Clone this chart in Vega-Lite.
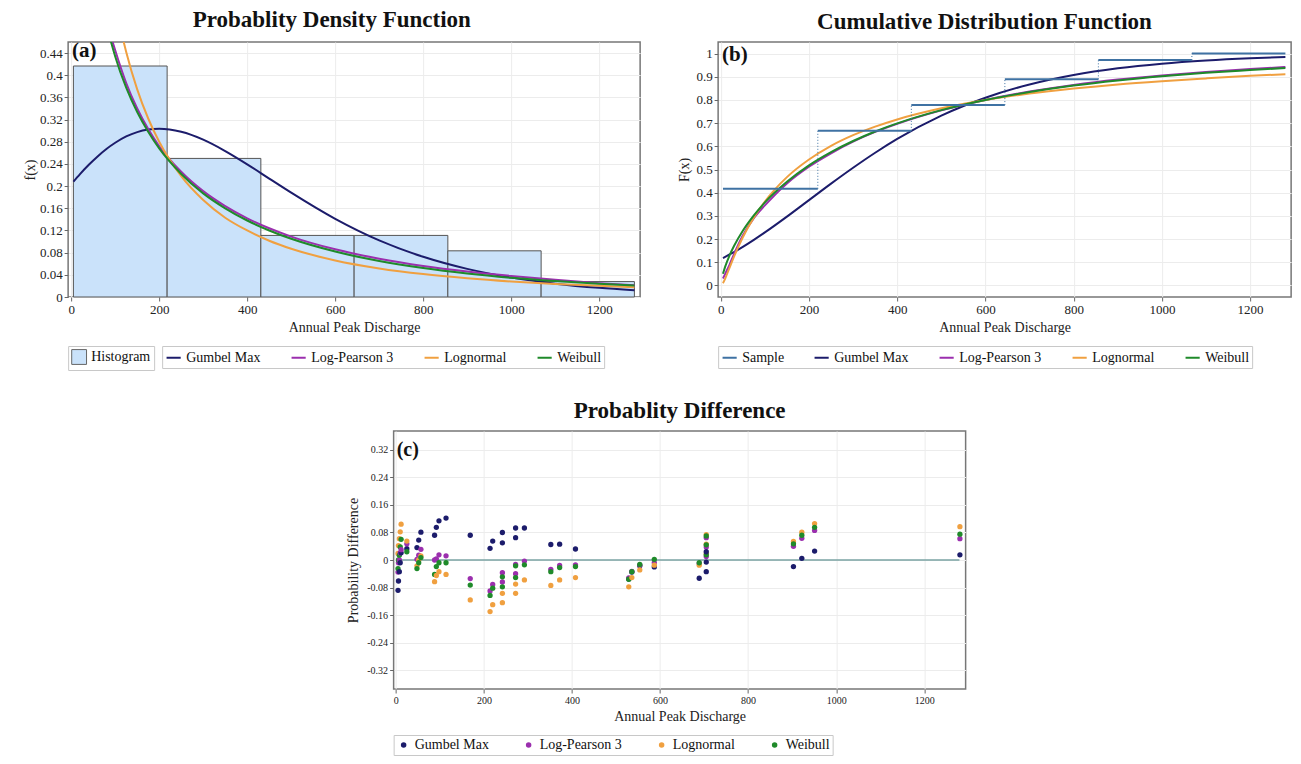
{
  "$schema": "https://vega.github.io/schema/vega-lite/v6.json",
  "background": "white",
  "padding": {"left": 22, "top": 8, "right": 6, "bottom": 4},
  "config": {
    "font": "Liberation Serif",
    "view": {"stroke": "#777", "strokeWidth": 1.5},
    "axis": {
      "labelFont": "Liberation Serif", "labelFontSize": 13, "labelColor": "#222",
      "titleFont": "Liberation Serif", "titleFontSize": 14, "titleFontWeight": "normal", "titleColor": "#222",
      "gridColor": "#ececec", "domain": false, "tickColor": "#666", "tickSize": 4, "labelPadding": 2,
      "labelOverlap": false, "labelFlush": false
    },
    "title": {"font": "Liberation Serif", "fontSize": 23, "fontWeight": "bold", "color": "#111", "anchor": "middle", "offset": 8},
    "legend": {
      "orient": "bottom", "direction": "horizontal", "labelFont": "Liberation Serif", "labelFontSize": 14,
      "labelColor": "#111", "strokeColor": "#c8c8c8", "padding": 3, "columnPadding": 26, "offset": 12
    }
  },
  "datasets": {
    "hist": [
      {"x": 5, "x1": 218, "v": 0.4167},
      {"x": 218, "x1": 431, "v": 0.25},
      {"x": 431, "x1": 643, "v": 0.1111},
      {"x": 643, "x1": 856, "v": 0.1111},
      {"x": 856, "x1": 1068, "v": 0.0833},
      {"x": 1068, "x1": 1280, "v": 0.0278}
    ],
    "steps": [
      {"x": 5, "x1": 220, "v": 0.4167},
      {"x": 220, "x1": 432, "v": 0.6667, "pprev": 0.4167},
      {"x": 432, "x1": 644, "v": 0.7778, "pprev": 0.6667},
      {"x": 644, "x1": 856, "v": 0.8889, "pprev": 0.7778},
      {"x": 856, "x1": 1068, "v": 0.9722, "pprev": 0.8889},
      {"x": 1068, "x1": 1280, "v": 1.0, "pprev": 0.9722}
    ],
    "pdf": [
      {"x": 5, "Gumbel Max": 0.208, "Log-Pearson 3": 1.3, "Lognormal": 0.713, "Weibull": 1.49},
      {"x": 20, "Gumbel Max": 0.2217, "Log-Pearson 3": 0.85, "Lognormal": 1.02, "Weibull": 0.923},
      {"x": 40, "Gumbel Max": 0.2385, "Log-Pearson 3": 0.68, "Lognormal": 0.886, "Weibull": 0.695},
      {"x": 60, "Gumbel Max": 0.2536, "Log-Pearson 3": 0.575, "Lognormal": 0.739, "Weibull": 0.574},
      {"x": 80, "Gumbel Max": 0.267, "Log-Pearson 3": 0.5, "Lognormal": 0.621, "Weibull": 0.493},
      {"x": 100, "Gumbel Max": 0.2782, "Log-Pearson 3": 0.445, "Lognormal": 0.53, "Weibull": 0.434},
      {"x": 125, "Gumbel Max": 0.2896, "Log-Pearson 3": 0.386, "Lognormal": 0.442, "Weibull": 0.3775},
      {"x": 150, "Gumbel Max": 0.2975, "Log-Pearson 3": 0.34, "Lognormal": 0.3746, "Weibull": 0.3336},
      {"x": 175, "Gumbel Max": 0.302, "Log-Pearson 3": 0.303, "Lognormal": 0.322, "Weibull": 0.298},
      {"x": 200, "Gumbel Max": 0.3035, "Log-Pearson 3": 0.272, "Lognormal": 0.28, "Weibull": 0.268},
      {"x": 250, "Gumbel Max": 0.298, "Log-Pearson 3": 0.226, "Lognormal": 0.218, "Weibull": 0.222},
      {"x": 300, "Gumbel Max": 0.2838, "Log-Pearson 3": 0.191, "Lognormal": 0.175, "Weibull": 0.187},
      {"x": 350, "Gumbel Max": 0.2633, "Log-Pearson 3": 0.164, "Lognormal": 0.143, "Weibull": 0.16},
      {"x": 400, "Gumbel Max": 0.2394, "Log-Pearson 3": 0.142, "Lognormal": 0.12, "Weibull": 0.138},
      {"x": 450, "Gumbel Max": 0.2137, "Log-Pearson 3": 0.124, "Lognormal": 0.1015, "Weibull": 0.12},
      {"x": 500, "Gumbel Max": 0.1882, "Log-Pearson 3": 0.109, "Lognormal": 0.087, "Weibull": 0.105},
      {"x": 600, "Gumbel Max": 0.141, "Log-Pearson 3": 0.086, "Lognormal": 0.066, "Weibull": 0.082},
      {"x": 700, "Gumbel Max": 0.1021, "Log-Pearson 3": 0.069, "Lognormal": 0.0516, "Weibull": 0.065},
      {"x": 800, "Gumbel Max": 0.0725, "Log-Pearson 3": 0.056, "Lognormal": 0.0413, "Weibull": 0.0522},
      {"x": 900, "Gumbel Max": 0.0507, "Log-Pearson 3": 0.046, "Lognormal": 0.0338, "Weibull": 0.0424},
      {"x": 1000, "Gumbel Max": 0.0351, "Log-Pearson 3": 0.038, "Lognormal": 0.028, "Weibull": 0.0347},
      {"x": 1100, "Gumbel Max": 0.0241, "Log-Pearson 3": 0.031, "Lognormal": 0.0236, "Weibull": 0.0287},
      {"x": 1200, "Gumbel Max": 0.0165, "Log-Pearson 3": 0.025, "Lognormal": 0.0201, "Weibull": 0.0238},
      {"x": 1280, "Gumbel Max": 0.0122, "Log-Pearson 3": 0.021, "Lognormal": 0.0178, "Weibull": 0.0206}
    ],
    "cdf": [
      {"x": 5, "Gumbel Max": 0.118, "Log-Pearson 3": 0.03, "Lognormal": 0.0094, "Weibull": 0.05},
      {"x": 10, "Gumbel Max": 0.1231, "Log-Pearson 3": 0.05, "Lognormal": 0.0295, "Weibull": 0.081},
      {"x": 20, "Gumbel Max": 0.1334, "Log-Pearson 3": 0.09, "Lognormal": 0.077, "Weibull": 0.13},
      {"x": 30, "Gumbel Max": 0.144, "Log-Pearson 3": 0.135, "Lognormal": 0.124, "Weibull": 0.17},
      {"x": 50, "Gumbel Max": 0.1665, "Log-Pearson 3": 0.215, "Lognormal": 0.2075, "Weibull": 0.2357},
      {"x": 75, "Gumbel Max": 0.1967, "Log-Pearson 3": 0.29, "Lognormal": 0.293, "Weibull": 0.302},
      {"x": 100, "Gumbel Max": 0.2286, "Log-Pearson 3": 0.345, "Lognormal": 0.362, "Weibull": 0.358},
      {"x": 150, "Gumbel Max": 0.2967, "Log-Pearson 3": 0.44, "Lognormal": 0.467, "Weibull": 0.447},
      {"x": 200, "Gumbel Max": 0.3679, "Log-Pearson 3": 0.512, "Lognormal": 0.543, "Weibull": 0.518},
      {"x": 250, "Gumbel Max": 0.4391, "Log-Pearson 3": 0.57, "Lognormal": 0.602, "Weibull": 0.575},
      {"x": 300, "Gumbel Max": 0.5076, "Log-Pearson 3": 0.62, "Lognormal": 0.648, "Weibull": 0.623},
      {"x": 350, "Gumbel Max": 0.5724, "Log-Pearson 3": 0.662, "Lognormal": 0.685, "Weibull": 0.664},
      {"x": 400, "Gumbel Max": 0.632, "Log-Pearson 3": 0.697, "Lognormal": 0.716, "Weibull": 0.699},
      {"x": 500, "Gumbel Max": 0.7327, "Log-Pearson 3": 0.755, "Lognormal": 0.764, "Weibull": 0.756},
      {"x": 600, "Gumbel Max": 0.8098, "Log-Pearson 3": 0.8, "Lognormal": 0.8, "Weibull": 0.8},
      {"x": 700, "Gumbel Max": 0.8668, "Log-Pearson 3": 0.836, "Lognormal": 0.8275, "Weibull": 0.834},
      {"x": 800, "Gumbel Max": 0.9077, "Log-Pearson 3": 0.865, "Lognormal": 0.849, "Weibull": 0.862},
      {"x": 900, "Gumbel Max": 0.9365, "Log-Pearson 3": 0.888, "Lognormal": 0.867, "Weibull": 0.884},
      {"x": 1000, "Gumbel Max": 0.9565, "Log-Pearson 3": 0.906, "Lognormal": 0.881, "Weibull": 0.902},
      {"x": 1100, "Gumbel Max": 0.9703, "Log-Pearson 3": 0.921, "Lognormal": 0.893, "Weibull": 0.917},
      {"x": 1200, "Gumbel Max": 0.9798, "Log-Pearson 3": 0.933, "Lognormal": 0.904, "Weibull": 0.929},
      {"x": 1280, "Gumbel Max": 0.9851, "Log-Pearson 3": 0.942, "Lognormal": 0.911, "Weibull": 0.938}
    ],
    "diff": [
      {"x": 5, "Gumbel Max": -0.088, "Log-Pearson 3": -0.035, "Lognormal": 0.019, "Weibull": -0.025},
      {"x": 6, "Gumbel Max": -0.061, "Log-Pearson 3": -0.008, "Lognormal": 0.042, "Weibull": 0.0},
      {"x": 8, "Gumbel Max": -0.034, "Log-Pearson 3": 0.0, "Lognormal": 0.062, "Weibull": 0.014},
      {"x": 10, "Gumbel Max": -0.008, "Log-Pearson 3": 0.021, "Lognormal": 0.082, "Weibull": 0.038},
      {"x": 12, "Gumbel Max": 0.021, "Log-Pearson 3": 0.03, "Lognormal": 0.104, "Weibull": 0.06},
      {"x": 25, "Gumbel Max": 0.033, "Log-Pearson 3": 0.047, "Lognormal": 0.055, "Weibull": 0.024},
      {"x": 48, "Gumbel Max": 0.036, "Log-Pearson 3": 0.002, "Lognormal": -0.017, "Weibull": -0.025},
      {"x": 52, "Gumbel Max": 0.058, "Log-Pearson 3": 0.014, "Lognormal": 0.0, "Weibull": -0.008},
      {"x": 57, "Gumbel Max": 0.081, "Log-Pearson 3": 0.031, "Lognormal": 0.012, "Weibull": 0.007},
      {"x": 88, "Gumbel Max": 0.072, "Log-Pearson 3": 0.0, "Lognormal": -0.063, "Weibull": -0.042},
      {"x": 92, "Gumbel Max": 0.095, "Log-Pearson 3": 0.003, "Lognormal": -0.045, "Weibull": -0.019},
      {"x": 98, "Gumbel Max": 0.114, "Log-Pearson 3": 0.015, "Lognormal": -0.034, "Weibull": -0.008},
      {"x": 114, "Gumbel Max": 0.122, "Log-Pearson 3": 0.012, "Lognormal": -0.042, "Weibull": -0.008},
      {"x": 169, "Gumbel Max": 0.072, "Log-Pearson 3": -0.054, "Lognormal": -0.116, "Weibull": -0.073},
      {"x": 214, "Gumbel Max": 0.034, "Log-Pearson 3": -0.09, "Lognormal": -0.15, "Weibull": -0.103},
      {"x": 220, "Gumbel Max": 0.055, "Log-Pearson 3": -0.071, "Lognormal": -0.13, "Weibull": -0.082},
      {"x": 242, "Gumbel Max": 0.05, "Log-Pearson 3": -0.064, "Lognormal": -0.124, "Weibull": -0.078},
      {"x": 242, "Gumbel Max": 0.08, "Log-Pearson 3": -0.037, "Lognormal": -0.097, "Weibull": -0.049},
      {"x": 272, "Gumbel Max": 0.065, "Log-Pearson 3": -0.04, "Lognormal": -0.097, "Weibull": -0.051},
      {"x": 272, "Gumbel Max": 0.093, "Log-Pearson 3": -0.013, "Lognormal": -0.07, "Weibull": -0.017},
      {"x": 292, "Gumbel Max": 0.093, "Log-Pearson 3": -0.003, "Lognormal": -0.058, "Weibull": -0.014},
      {"x": 352, "Gumbel Max": 0.045, "Log-Pearson 3": -0.027, "Lognormal": -0.074, "Weibull": -0.034},
      {"x": 372, "Gumbel Max": 0.046, "Log-Pearson 3": -0.016, "Lognormal": -0.058, "Weibull": -0.022},
      {"x": 408, "Gumbel Max": 0.032, "Log-Pearson 3": -0.014, "Lognormal": -0.051, "Weibull": -0.019},
      {"x": 529, "Gumbel Max": -0.055, "Log-Pearson 3": -0.052, "Lognormal": -0.078, "Weibull": -0.056},
      {"x": 536, "Gumbel Max": -0.035, "Log-Pearson 3": -0.033, "Lognormal": -0.051, "Weibull": -0.034},
      {"x": 554, "Gumbel Max": -0.017, "Log-Pearson 3": -0.015, "Lognormal": -0.029, "Weibull": -0.013},
      {"x": 587, "Gumbel Max": -0.02, "Log-Pearson 3": -0.008, "Lognormal": -0.015, "Weibull": 0.002},
      {"x": 689, "Gumbel Max": -0.053, "Log-Pearson 3": -0.01, "Lognormal": -0.015, "Weibull": -0.008},
      {"x": 705, "Gumbel Max": -0.034, "Log-Pearson 3": 0.01, "Lognormal": 0.018, "Weibull": 0.015},
      {"x": 705, "Gumbel Max": -0.006, "Log-Pearson 3": 0.038, "Lognormal": 0.046, "Weibull": 0.044},
      {"x": 705, "Gumbel Max": 0.024, "Log-Pearson 3": 0.065, "Lognormal": 0.074, "Weibull": 0.07},
      {"x": 903, "Gumbel Max": -0.019, "Log-Pearson 3": 0.04, "Lognormal": 0.054, "Weibull": 0.047},
      {"x": 922, "Gumbel Max": 0.005, "Log-Pearson 3": 0.063, "Lognormal": 0.081, "Weibull": 0.072},
      {"x": 951, "Gumbel Max": 0.026, "Log-Pearson 3": 0.086, "Lognormal": 0.106, "Weibull": 0.095},
      {"x": 1281, "Gumbel Max": 0.015, "Log-Pearson 3": 0.062, "Lognormal": 0.097, "Weibull": 0.075}
    ],
    "zero": [{"x": 5, "x1": 1280, "v": 0}],
    "labA": [{"t": "(a)", "x": 2, "v": 0.443}],
    "labB": [{"t": "(b)", "x": 3, "v": 0.995}],
    "labC": [{"t": "(c)", "x": 2, "v": 0.32}]
  },
  "spacing": 27,
  "center": true,
  "resolve": {
    "scale": {"stroke": "independent", "fill": "independent", "color": "independent"},
    "legend": {"stroke": "independent", "fill": "independent", "color": "independent"}
  },
  "vconcat": [
    {
      "spacing": 36,
      "resolve": {
        "scale": {"stroke": "independent", "fill": "independent", "color": "independent"},
        "legend": {"stroke": "independent", "fill": "independent", "color": "independent"}
      },
      "hconcat": [
        {
          "title": {"text": "Probablity Density Function", "frame": "bounds"},
          "width": 572,
          "height": 255,
          "encoding": {
            "x": {"field": "x", "type": "quantitative", "scale": {"domain": [-7, 1293], "nice": false, "zero": false},
                  "axis": {"title": "Annual Peak Discharge", "values": [0, 200, 400, 600, 800, 1000, 1200], "format": "d", "grid": true, "labelOverlap": false}},
            "y": {"field": "v", "type": "quantitative", "scale": {"domain": [0, 0.46], "nice": false},
                  "axis": {"title": "f(x)", "values": [0, 0.04, 0.08, 0.12, 0.16, 0.2, 0.24, 0.28, 0.32, 0.36, 0.4, 0.44], "format": ".2~f", "grid": true, "titlePadding": 2, "labelOverlap": false}}
          },
          "layer": [
            {
              "data": {"name": "hist"},
              "mark": {"type": "rect", "stroke": "#555", "strokeWidth": 1},
              "encoding": {
                "x2": {"field": "x1"},
                "y2": {"datum": 0},
                "fill": {"datum": "Histogram", "type": "nominal", "scale": {"domain": ["Histogram"], "range": ["#cae2fa"]},
                         "legend": {"title": null, "symbolType": "square", "symbolSize": 220, "symbolStrokeColor": "#666", "symbolStrokeWidth": 1, "orient": "bottom"}}
              }
            },
            {
              "data": {"name": "pdf"},
              "transform": [{"fold": ["Gumbel Max", "Log-Pearson 3", "Lognormal", "Weibull"], "as": ["dist", "v"]}],
              "mark": {"type": "line", "strokeWidth": 2, "clip": true, "interpolate": "monotone"},
              "encoding": {
                "stroke": {"field": "dist", "type": "nominal",
                           "scale": {"domain": ["Gumbel Max", "Log-Pearson 3", "Lognormal", "Weibull"], "range": ["#1c1c6b", "#9b2fae", "#f0a040", "#1f8a2a"]},
                           "legend": {"title": null, "symbolType": "stroke", "symbolStrokeWidth": 2, "symbolSize": 200}}
              }
            },
            {
              "data": {"name": "labA"},
              "mark": {"type": "text", "fontSize": 21, "fontWeight": "bold", "align": "left", "baseline": "middle", "font": "Liberation Serif", "color": "#111"},
              "encoding": {"text": {"field": "t"}}
            }
          ]
        },
        {
          "title": {"text": "Cumulative Distribution Function", "frame": "bounds"},
          "width": 573,
          "height": 255,
          "encoding": {
            "x": {"field": "x", "type": "quantitative", "scale": {"domain": [-6, 1293], "nice": false, "zero": false},
                  "axis": {"title": "Annual Peak Discharge", "values": [0, 200, 400, 600, 800, 1000, 1200], "format": "d", "grid": true, "labelOverlap": false}},
            "y": {"field": "v", "type": "quantitative", "scale": {"domain": [-0.05, 1.05], "nice": false},
                  "axis": {"title": "F(x)", "values": [0, 0.1, 0.2, 0.3, 0.4, 0.5, 0.6, 0.7, 0.8, 0.9, 1], "format": ".1~f", "grid": true, "titlePadding": 4, "labelOverlap": false}}
          },
          "layer": [
            {
              "data": {"name": "cdf"},
              "transform": [{"fold": ["Gumbel Max", "Log-Pearson 3", "Lognormal", "Weibull"], "as": ["dist", "v"]}],
              "mark": {"type": "line", "strokeWidth": 2, "clip": true, "interpolate": "monotone"},
              "encoding": {
                "stroke": {"field": "dist", "type": "nominal",
                           "scale": {"domain": ["Sample", "Gumbel Max", "Log-Pearson 3", "Lognormal", "Weibull"], "range": ["#3f72a3", "#1c1c6b", "#9b2fae", "#f0a040", "#1f8a2a"]},
                           "legend": {"title": null, "symbolType": "stroke", "symbolStrokeWidth": 2, "symbolSize": 200}}
              }
            },
            {
              "data": {"name": "steps"},
              "transform": [{"filter": "isValid(datum.pprev)"}],
              "mark": {"type": "rule", "strokeWidth": 1, "strokeDash": [1, 2], "color": "#3f72a3"},
              "encoding": {"y": {"field": "pprev", "type": "quantitative"}, "y2": {"field": "v"}}
            },
            {
              "data": {"name": "steps"},
              "mark": {"type": "rule", "strokeWidth": 2},
              "encoding": {"x2": {"field": "x1"}, "stroke": {"datum": "Sample", "type": "nominal"}}
            },
            {
              "data": {"name": "labB"},
              "mark": {"type": "text", "fontSize": 21, "fontWeight": "bold", "align": "left", "baseline": "middle", "font": "Liberation Serif", "color": "#111"},
              "encoding": {"text": {"field": "t"}}
            }
          ]
        }
      ]
    },
    {
      "title": "Probablity Difference",
      "width": 572,
      "height": 258,
      "encoding": {
        "x": {"field": "x", "type": "quantitative", "scale": {"domain": [-5, 1294], "nice": false, "zero": false},
              "axis": {"title": "Annual Peak Discharge", "values": [0, 200, 400, 600, 800, 1000, 1200], "format": "d", "grid": true, "labelFontSize": 10, "labelOverlap": false}},
        "y": {"field": "v", "type": "quantitative", "scale": {"domain": [-0.375, 0.375], "nice": false},
              "axis": {"title": "Probability Difference", "values": [-0.32, -0.24, -0.16, -0.08, 0, 0.08, 0.16, 0.24, 0.32], "format": ".2~f", "labelExpr": "replace(datum.label, '\u2212', '-')", "grid": true, "labelFontSize": 10, "titlePadding": 6, "labelOverlap": false}}
      },
      "layer": [
        {
          "data": {"name": "zero"},
          "mark": {"type": "rule", "color": "#7aa3a3", "strokeWidth": 1.5},
          "encoding": {"x2": {"field": "x1"}}
        },
        {
          "data": {"name": "diff"},
          "transform": [{"fold": ["Gumbel Max", "Log-Pearson 3", "Lognormal", "Weibull"], "as": ["dist", "v"]}],
          "mark": {"type": "circle", "size": 28, "opacity": 1},
          "encoding": {
            "color": {"field": "dist", "type": "nominal",
                      "scale": {"domain": ["Gumbel Max", "Log-Pearson 3", "Lognormal", "Weibull"], "range": ["#1c1c6b", "#9b2fae", "#f0a040", "#1f8a2a"]},
                      "legend": {"title": null, "symbolType": "circle", "symbolSize": 30, "columnPadding": 32}}
          }
        },
        {
          "data": {"name": "labC"},
          "mark": {"type": "text", "fontSize": 20, "fontWeight": "bold", "align": "left", "baseline": "middle", "font": "Liberation Serif", "color": "#111"},
          "encoding": {"text": {"field": "t"}}
        }
      ]
    }
  ]
}
